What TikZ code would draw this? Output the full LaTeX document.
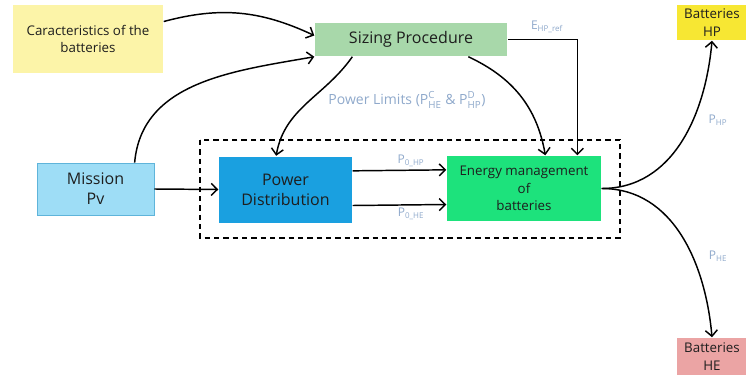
\documentclass[tikz,border=0pt]{standalone}
\usepackage{amsmath}
\usepackage{fontspec}
\setmainfont{Open Sans}
\usetikzlibrary{arrows.meta}
\definecolor{caracfill}{HTML}{FCF4A8}
\definecolor{sizingfill}{HTML}{A8D8AA}
\definecolor{missionfill}{HTML}{9EDDF6}
\definecolor{missiondraw}{HTML}{5FB4DA}
\definecolor{distfill}{HTML}{1AA0E0}
\definecolor{energyfill}{HTML}{1DE27C}
\definecolor{hpfill}{HTML}{F7E733}
\definecolor{hefill}{HTML}{EBA4A4}
\definecolor{labelcol}{HTML}{8FA9CB}
\definecolor{textcol}{HTML}{1E1E1E}
\newcommand{\supsub}[2]{\ensuremath{^{\text{#1}}_{\text{#2}}}}

\begin{document}
\begin{tikzpicture}[x=0.75pt,y=-0.75pt,>={Straight Barb[length=4.5pt,width=9pt]},line width=1.1pt]
  \tikzset{box/.style={inner sep=2pt,align=center,text=textcol,font=\fontsize{12}{15}\selectfont},
           small/.style={font=\fontsize{10}{13}\selectfont},
           lbl/.style={text=labelcol,font=\fontsize{9}{11}\selectfont}}
  \useasboundingbox (0,0) rectangle (746,378);

  \node[box,small,fill=caracfill,minimum width=112.5pt,minimum height=51pt] (carac) at (88,39) {Caracteristics of the\\batteries};
  \node[box,fill=sizingfill,minimum width=144pt,minimum height=24.75pt] (sizing) at (411,39.5) {Sizing Procedure};
  \node[box,draw=missiondraw,line width=0.6pt,fill=missionfill,minimum width=87.75pt,minimum height=39pt] (mission) at (95.5,189) {Mission\\Pv};
  \node[box,fill=distfill,minimum width=99.75pt,minimum height=49.5pt] (dist) at (285.5,189.5) {Power\\Distribution};
  \node[box,fill=energyfill,minimum width=115.5pt,minimum height=48.75pt,font=\fontsize{10}{13}\selectfont] (energy) at (524,188.5) {Energy management\\of\\batteries};
  \node[box,small,fill=hpfill,minimum width=52.5pt,minimum height=26.25pt,inner sep=0pt] (bathp) at (712,22.5) {Batteries\\HP};
  \node[box,small,fill=hefill,minimum width=52.5pt,minimum height=27.75pt,inner sep=0pt] (bathe) at (712,356.5) {Batteries\\HE};

  \draw[dashed,line width=1.3pt,dash pattern=on 4pt off 3pt] (200,140) rectangle (620,238);

  \node[lbl] (eref) at (547,27) {E\textsubscript{HP\_ref}};
  \node[lbl,font=\fontsize{10.5}{12}\selectfont] (limits) at (407,100) {Power Limits (P\supsub{C}{HE} \& P\supsub{D}{HP})};
  \node[lbl] (p0hp) at (411,161) {P\textsubscript{0\_HP}};
  \node[lbl] (p0he) at (411,214) {P\textsubscript{0\_HE}};
  \node[lbl] (php) at (718,120) {P\textsubscript{HP}};
  \node[lbl] (phe) at (718,256) {P\textsubscript{HE}};

  \draw[->] (carac.13) to[out=15,in=155] ([yshift=3pt]sizing.west);
  \draw[->] (mission.34) to[out=85,in=190] (sizing.south west);
  \draw[->] (mission.east) -- (dist.west);
  \draw[->] ([xshift=-44pt]sizing.south) to[out=235,in=80] ([xshift=-7pt]dist.north);
  \draw[->] ([xshift=43pt]sizing.south) to[out=-25,in=100] ([xshift=16pt]energy.north);
  \draw[<-] ([xshift=40pt]energy.north) |- (sizing.east);
  \draw[->] ([yshift=14pt]dist.east) -- ([yshift=14pt]energy.west);
  \draw[->] ([yshift=-12pt]dist.east) -- ([yshift=-12pt]energy.west);
  \draw[->] (energy.east) to[out=0,in=-95] (bathp.south);
  \draw[->] (energy.east) to[out=0,in=95] (bathe.north);
\end{tikzpicture}
\end{document}
